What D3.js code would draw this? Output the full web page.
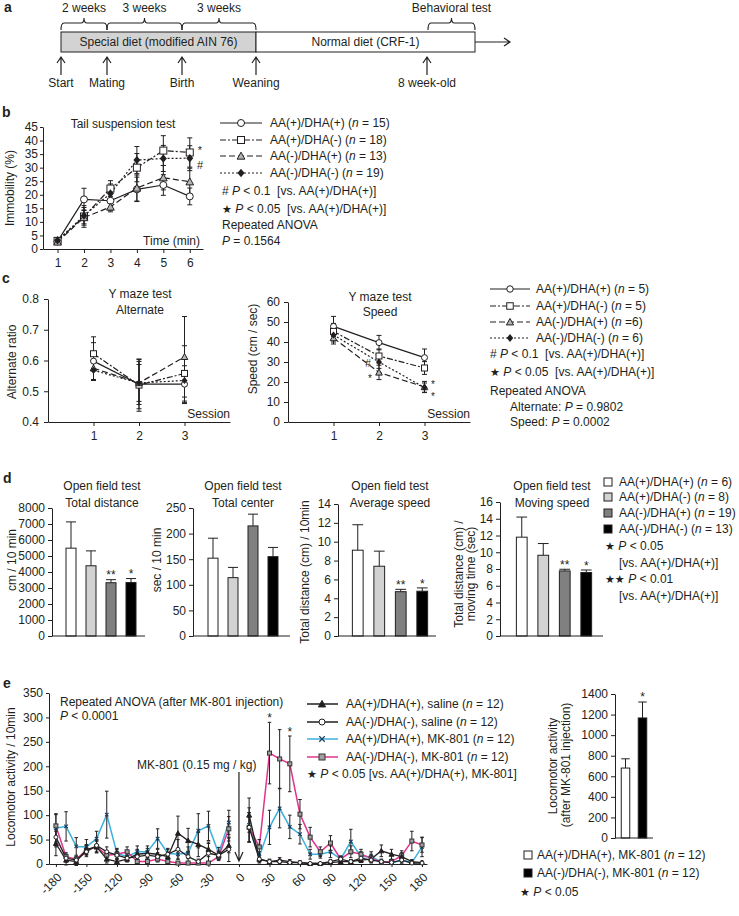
<!DOCTYPE html>
<html><head><meta charset="utf-8">
<script src="https://cdn.jsdelivr.net/npm/d3@7/dist/d3.min.js"></script>
<style>body{margin:0;background:#fff}text{white-space:pre}</style>
</head><body>
<svg id="fig" width="739" height="916" xmlns="http://www.w3.org/2000/svg"></svg>
<script>
// ================= DATA =================
const groups = ["AA(+)/DHA(+)", "AA(+)/DHA(-)", "AA(-)/DHA(+)", "AA(-)/DHA(-)"];

// (a) timeline
const tlEvents = ["Start", "Mating", "Birth", "Weaning", "8 week-old"];
const tlPeriods = ["2 weeks", "3 weeks", "3 weeks", "Behavioral test"];
const tlBoxes = ["Special diet (modified AIN 76)", "Normal diet (CRF-1)"];

// (b) tail suspension
const tsTimes = [1, 2, 3, 4, 5, 6];
const tsN = [15, 18, 13, 19];
const tsYTicks = [0, 5, 10, 15, 20, 25, 30, 35, 40, 45];
const tsPP = [2.8, 18.3, 17.8, 22.0, 23.6, 19.4];
const tsPPsem = [0.8, 4.1, 3.5, 4.5, 3.8, 3.1];
const tsPM = [3.0, 12.0, 22.3, 30.0, 36.3, 35.6];
const tsPMsem = [0.9, 4.0, 2.9, 5.2, 5.5, 5.4];
const tsMP = [2.6, 11.6, 15.5, 22.5, 26.3, 24.8];
const tsMPsem = [0.7, 2.8, 1.8, 4.8, 4.5, 5.0];
const tsMM = [3.2, 12.3, 20.5, 32.8, 33.4, 33.5];
const tsMMsem = [0.9, 3.0, 3.5, 5.0, 4.8, 4.6];

// (c) Y maze
const ymSessions = [1, 2, 3];
const ymN = ["5", "5", "6", "6"];
const altTicks = [0.4, 0.5, 0.6, 0.7, 0.8];
const altPP = [0.598, 0.523, 0.523], altPPsem = [0.06, 0.08, 0.06];
const altPM = [0.622, 0.520, 0.558], altPMsem = [0.055, 0.085, 0.09];
const altMP = [0.575, 0.527, 0.612], altMPsem = [0.04, 0.07, 0.131];
const altMM = [0.568, 0.527, 0.535], altMMsem = [0.03, 0.06, 0.075];
const spdTicks = [0, 10, 20, 30, 40, 50, 60];
const spdPP = [47.8, 39.7, 32.2], spdPPsem = [5.0, 3.6, 4.3];
const spdPM = [45.3, 33.0, 27.0], spdPMsem = [4.0, 3.5, 3.2];
const spdMP = [42.0, 24.8, 17.5], spdMPsem = [3.0, 3.6, 2.8];
const spdMM = [43.5, 30.0, 17.2], spdMMsem = [3.5, 3.2, 2.3];

// (d) open field
const odN = [6, 8, 19, 13];
const odFills = ["#ffffff", "#d2d2d2", "#808080", "#000000"];
const odTotalDist = [5490, 4390, 3330, 3340], odTotalDistSem = [1640, 930, 190, 250];
const odCenter = [152, 114, 215, 155], odCenterSem = [39, 20, 23, 18];
const odAvgSpeed = [9.1, 7.4, 4.7, 4.75], odAvgSpeedSem = [2.7, 1.6, 0.25, 0.35];
const odMoveSpeed = [11.8, 9.64, 7.77, 7.58], odMoveSpeedSem = [2.4, 1.4, 0.2, 0.3];
const odStarsDist = ["", "", "**", "*"];
const odStarsCenter = ["", "", "", ""];
const odStarsAvg = ["", "", "**", "*"];
const odStarsMove = ["", "", "**", "*"];
const odTicksDist = [0, 1000, 2000, 3000, 4000, 5000, 6000, 7000, 8000];
const odTicksCenter = [0, 50, 100, 150, 200, 250];
const odTicksAvg = [0, 2, 4, 6, 8, 10, 12, 14];
const odTicksMove = [0, 2, 4, 6, 8, 10, 12, 14, 16];

// (e) MK-801 locomotor activity
const locoTimes = [-180,-170,-160,-150,-140,-130,-120,-110,-100,-90,-80,-70,-60,-50,-40,-30,-20,-10,
                   10,20,30,40,50,60,70,80,90,100,110,120,130,140,150,160,170,180];
const locoXTicks = [-180,-150,-120,-90,-60,-30,0,30,60,90,120,150,180];
const locoYTicks = [0,50,100,150,200,250,300,350];
const locoLabels = ["AA(+)/DHA(+), saline", "AA(-)/DHA(-), saline", "AA(+)/DHA(+), MK-801", "AA(-)/DHA(-), MK-801"];
const locoSalPP = [42,8,5,30,35,10,5,10,20,22,20,15,63,48,40,30,18,38, 100,10,5,8,5,3,1,1,3,5,5,8,10,27,20,15,5,3];
const locoSalPPsem = [25,10,8,10,12,8,5,6,10,10,10,8,35,25,25,15,8,15, 35,8,5,5,4,3,2,2,3,4,4,5,6,12,10,8,4,3];
const locoSalMM = [55,12,8,25,38,25,18,12,15,18,15,20,30,15,5,22,18,30, 75,10,5,5,3,3,1,1,5,10,5,12,8,5,3,8,2,2];
const locoSalMMsem = [20,8,6,10,12,10,8,6,8,8,8,10,20,10,5,20,8,25, 30,6,4,4,3,3,2,2,4,6,4,8,6,4,3,6,2,2];
const locoMkPP = [73,77,36,35,52,101,22,15,25,25,52,22,20,23,68,78,22,85, 80,15,75,114,76,61,20,20,25,10,46,15,15,5,2,8,3,35];
const locoMkPPsem = [28,30,18,15,15,48,10,8,12,12,20,10,10,12,35,30,12,25, 35,10,35,40,24,20,10,8,12,6,25,10,10,5,3,6,3,20];
const locoMkMM = [78,15,10,28,35,18,20,25,5,5,10,5,2,2,2,2,15,72, 75,35,227,215,205,102,55,25,43,10,25,20,12,3,5,17,47,39];
const locoMkMMsem = [25,8,6,10,12,8,10,10,4,4,6,4,2,2,2,2,8,25, 30,15,63,60,57,30,20,10,15,6,12,10,8,3,4,10,20,15];
const locoStarTimes = [30, 50];
const mkTotal = [680, 1167], mkTotalSem = [90, 155];
const mkTotalLabels = ["AA(+)/DHA(+), MK-801", "AA(-)/DHA(-), MK-801"];
const mkTotalTicks = [0,200,400,600,800,1000,1200,1400];

// ================= DRAWING =================
const INK = "#231f20";
const FONT = '"Liberation Sans", Arial, Helvetica, sans-serif';
const FS = 12;
const svg = d3.select("#fig").attr("font-family", FONT);

function T(x, y, s, o = {}) {
  const t = svg.append("text").attr("x", x).attr("y", y)
    .attr("font-size", o.fs || FS).attr("fill", INK)
    .attr("text-anchor", o.anchor || "start");
  if (!o.baseline) t.attr("dominant-baseline", "central");
  if (o.bold) t.attr("font-weight", "bold");
  if (o.rot) t.attr("transform", `rotate(${o.rot},${x},${y})`);
  const parts = Array.isArray(s) ? s : [[s, 0]];
  parts.forEach(p => {
    const ts = t.append("tspan").text(p[0]);
    if (p[1] === 1) ts.attr("font-style", "italic");
    if (p[1] === 2) ts.attr("font-family", '"DejaVu Sans", sans-serif').attr("font-size", 11);
  });
  return t;
}
const nLab = (g, n, sp = " = ") => [[g + " (", 0], ["n", 1], [sp + n + ")", 0]];
function star(x, cy, s, fs = 13) {
  svg.append("text").attr("x", x).attr("y", cy + fs * 0.55).attr("font-size", fs)
    .attr("text-anchor", "middle").attr("fill", INK).text(s);
}
function styleAxis(g) {
  g.attr("font-family", FONT).attr("font-size", FS);
  g.select(".domain").attr("stroke", INK);
  g.selectAll(".tick line").attr("stroke", INK);
  g.selectAll(".tick text").attr("fill", INK);
}
function yAxis(x, scale, ticks, size = 4, pad = 3, fmt = d => d) {
  const g = svg.append("g").attr("transform", `translate(${x},0)`)
    .call(d3.axisLeft(scale).tickValues(ticks).tickSize(size).tickSizeOuter(0).tickPadding(pad).tickFormat(fmt));
  styleAxis(g); return g;
}
function xAxis(y, scale, ticks, size = 4, pad = 5, fmt = d => d) {
  const g = svg.append("g").attr("transform", `translate(0,${y})`)
    .call(d3.axisBottom(scale).tickValues(ticks).tickSize(size).tickSizeOuter(0).tickPadding(pad).tickFormat(fmt));
  styleAxis(g); return g;
}
function marker(g, type, x, y, s, color) {
  if (type === "circle") g.append("circle").attr("cx", x).attr("cy", y).attr("r", s / 2).attr("fill", "#fff").attr("stroke", INK).attr("stroke-width", 1);
  else if (type === "square") g.append("rect").attr("x", x - s / 2).attr("y", y - s / 2).attr("width", s).attr("height", s).attr("fill", "#fff").attr("stroke", INK);
  else if (type === "sqgray") g.append("rect").attr("x", x - s / 2).attr("y", y - s / 2).attr("width", s).attr("height", s).attr("fill", "#a0a0a0").attr("stroke", "#333");
  else if (type === "triangle" || type === "trifill") g.append("path")
    .attr("d", `M${x},${y - s * 0.55}L${x + s * 0.55},${y + s * 0.45}L${x - s * 0.55},${y + s * 0.45}Z`)
    .attr("fill", type === "trifill" ? INK : "#b5b5b5").attr("stroke", INK);
  else if (type === "diamond") g.append("path")
    .attr("d", `M${x},${y - s * 0.6}L${x + s * 0.5},${y}L${x},${y + s * 0.6}L${x - s * 0.5},${y}Z`).attr("fill", INK);
  else if (type === "x") g.append("path")
    .attr("d", `M${x - s / 2},${y - s / 2}L${x + s / 2},${y + s / 2}M${x - s / 2},${y + s / 2}L${x + s / 2},${y - s / 2}`)
    .attr("stroke", "#1b3f5c").attr("stroke-width", 1.2);
}
function drawSeries(g, xs, m, xS, yS, st) {
  const pts = xs.map((t, i) => [xS(t), yS(m[i])]);
  g.append("path").attr("d", d3.line()(pts)).attr("fill", "none")
    .attr("stroke", st.color || INK).attr("stroke-width", st.w || 1.2)
    .attr("stroke-dasharray", st.dash || null);
}
function drawErr(g, xs, m, e, xS, yS, cap) {
  xs.forEach((t, i) => {
    const x = xS(t), y1 = yS(m[i] - e[i]), y2 = yS(m[i] + e[i]);
    g.append("line").attr("x1", x).attr("x2", x).attr("y1", y1).attr("y2", y2).attr("stroke", INK).attr("stroke-width", 1);
    [y1, y2].forEach(yy => g.append("line").attr("x1", x - cap / 2).attr("x2", x + cap / 2).attr("y1", yy).attr("y2", yy).attr("stroke", INK).attr("stroke-width", 1));
  });
}
function drawMarkers(g, xs, m, xS, yS, type, s, color) {
  xs.forEach((t, i) => marker(g, type, xS(t), yS(m[i]), s, color));
}

// ---------- panel a ----------
const tlX = [61, 107, 182, 256, 427];
const tlEnd = 475;
T(4, 12, "a", { bold: true, fs: 14, baseline: 1 });
svg.append("rect").attr("x", tlX[0]).attr("y", 32).attr("width", tlX[3] - tlX[0]).attr("height", 20).attr("fill", "#d3d3d3").attr("stroke", INK);
svg.append("rect").attr("x", tlX[3]).attr("y", 32).attr("width", tlEnd - tlX[3]).attr("height", 20).attr("fill", "#fff").attr("stroke", INK);
T((tlX[0] + tlX[3]) / 2, 42, tlBoxes[0], { anchor: "middle" });
T((tlX[3] + tlEnd) / 2, 42, tlBoxes[1], { anchor: "middle" });
svg.append("path").attr("d", `M${tlEnd},42H510M504,38L510,42L504,46`).attr("fill", "none").attr("stroke", INK).attr("stroke-width", 1.2);
const braceSpans = [[tlX[0], tlX[1]], [tlX[1], tlX[2]], [tlX[2], tlX[3]], [428, tlEnd]];
braceSpans.forEach((sp, i) => {
  const [a, b] = sp, m = (a + b) / 2;
  svg.append("path").attr("d", `M${a},30Q${a},23 ${a + 3},23L${m - 3},23Q${m},23 ${m},18Q${m},23 ${m + 3},23L${b - 3},23Q${b},23 ${b},30`)
    .attr("fill", "none").attr("stroke", INK).attr("stroke-width", 1.1);
  T(m, 8, tlPeriods[i], { anchor: "middle" });
});
tlEvents.forEach((ev, i) => {
  const x = tlX[i];
  svg.append("path").attr("d", `M${x},75V57M${x - 4},63L${x},57L${x + 4},63`).attr("fill", "none").attr("stroke", INK).attr("stroke-width", 1.2);
  T(x, 83, ev, { anchor: "middle" });
});

// ---------- panel b ----------
T(2, 117, "b", { bold: true, fs: 14, baseline: 1 });
const xB = d3.scaleLinear().domain([0.45, 6.5]).range([43, 203]);
const yB = d3.scaleLinear().domain([0, 45]).range([249, 127]);
yAxis(43, yB, tsYTicks, 3, 2);
xAxis(249, xB, tsTimes, 4, 5);
T(123, 124, "Tail suspension test", { anchor: "middle" });
T(200, 241, "Time (min)", { anchor: "end" });
T(10, 188, "Immobility (%)", { anchor: "middle", rot: -90 });
const lineStyles = [
  { dash: null, marker: "circle", s: 7 },
  { dash: "6,2,2,2", marker: "square", s: 7 },
  { dash: "6,3", marker: "triangle", s: 7 },
  { dash: "2,2", marker: "diamond", s: 7 }
];
const gB = svg.append("g");
const tsSets = [[tsPP, tsPPsem], [tsPM, tsPMsem], [tsMP, tsMPsem], [tsMM, tsMMsem]];
tsSets.forEach((d, i) => drawSeries(gB, tsTimes, d[0], xB, yB, lineStyles[i]));
tsSets.forEach((d, i) => drawErr(gB, tsTimes, d[0], d[1], xB, yB, 5));
tsSets.forEach((d, i) => drawMarkers(gB, tsTimes, d[0], xB, yB, lineStyles[i].marker, lineStyles[i].s));
star(200, 148, "*", 11);
T(200, 165, "#", { anchor: "middle", fs: 11 });
// legend b
const legB = [123, 140, 156, 173];
groups.forEach((g, i) => {
  svg.append("line").attr("x1", 220).attr("x2", 262).attr("y1", legB[i]).attr("y2", legB[i]).attr("stroke", INK).attr("stroke-width", 1.2).attr("stroke-dasharray", lineStyles[i].dash);
  marker(svg, lineStyles[i].marker, 241, legB[i], lineStyles[i].s);
  T(270, legB[i], nLab(g, tsN[i]));
});
T(222, 191, [["# ", 0], ["P", 1], [" < 0.1  [vs. AA(+)/DHA(+)]", 0]]);
T(222, 209, [["★ ", 2], ["P", 1], [" < 0.05  [vs. AA(+)/DHA(+)]", 0]]);
T(222, 225, "Repeated ANOVA");
T(222, 241, [["P", 1], [" = 0.1564", 0]]);

// ---------- panel c ----------
T(2, 283, "c", { bold: true, fs: 14, baseline: 1 });
const xC1 = d3.scaleLinear().domain([0, 4]).range([48, 230]);
const yC1 = d3.scaleLinear().domain([0.4, 0.8]).range([422, 299]);
yAxis(48, yC1, altTicks, 4, 5, d3.format(".1f"));
xAxis(422, xC1, ymSessions, 4, 5);
T(140, 294, "Y maze test", { anchor: "middle" });
T(140, 310, "Alternate", { anchor: "middle" });
T(230, 414, "Session", { anchor: "end" });
T(12, 362, "Alternate ratio", { anchor: "middle", rot: -90 });
const gC1 = svg.append("g");
const altSets = [[altPP, altPPsem], [altPM, altPMsem], [altMP, altMPsem], [altMM, altMMsem]];
altSets.forEach((d, i) => drawSeries(gC1, ymSessions, d[0], xC1, yC1, lineStyles[i]));
altSets.forEach((d, i) => drawErr(gC1, ymSessions, d[0], d[1], xC1, yC1, 5));
altSets.forEach((d, i) => drawMarkers(gC1, ymSessions, d[0], xC1, yC1, lineStyles[i].marker, 6));

const xC2 = d3.scaleLinear().domain([0, 4]).range([288, 470]);
const yC2 = d3.scaleLinear().domain([0, 60]).range([422, 302]);
yAxis(288, yC2, spdTicks, 4, 4);
xAxis(422, xC2, ymSessions, 4, 5);
T(380, 297, "Y maze test", { anchor: "middle" });
T(380, 312, "Speed", { anchor: "middle" });
T(470, 414, "Session", { anchor: "end" });
T(253, 349, "Speed (cm / sec)", { anchor: "middle", rot: -90 });
const gC2 = svg.append("g");
const spdSets = [[spdPP, spdPPsem], [spdPM, spdPMsem], [spdMP, spdMPsem], [spdMM, spdMMsem]];
spdSets.forEach((d, i) => drawSeries(gC2, ymSessions, d[0], xC2, yC2, lineStyles[i]));
spdSets.forEach((d, i) => drawErr(gC2, ymSessions, d[0], d[1], xC2, yC2, 5));
spdSets.forEach((d, i) => drawMarkers(gC2, ymSessions, d[0], xC2, yC2, lineStyles[i].marker, 6));
T(368, 363, "#", { anchor: "middle", fs: 10 });
star(370, 376, "*", 10);
star(433, 382, "*", 10);
star(433, 394, "*", 10);
// legend c
const legC = [289, 306, 322, 338];
groups.forEach((g, i) => {
  svg.append("line").attr("x1", 490).attr("x2", 530).attr("y1", legC[i]).attr("y2", legC[i]).attr("stroke", INK).attr("stroke-width", 1.2).attr("stroke-dasharray", lineStyles[i].dash);
  marker(svg, lineStyles[i].marker, 510, legC[i], 6.5);
  T(536, legC[i], nLab(g, ymN[i], i === 2 ? " =" : " = "));
});
T(490, 354, [["# ", 0], ["P", 1], [" < 0.1  [vs. AA(+)/DHA(+)]", 0]]);
T(490, 372, [["★ ", 2], ["P", 1], [" < 0.05  [vs. AA(+)/DHA(+)]", 0]]);
T(490, 391, "Repeated ANOVA");
T(510, 407, [["Alternate: ", 0], ["P", 1], [" = 0.9802", 0]]);
T(510, 422, [["Speed: ", 0], ["P", 1], [" = 0.0002", 0]]);

// ---------- panel d ----------
T(3, 483, "d", { bold: true, fs: 14, baseline: 1 });
const odCharts = [
  { v: odTotalDist, e: odTotalDistSem, st: odStarsDist, ticks: odTicksDist, ax: 52, top: 508, end: 145, band: [61, 141], title: ["Open field test", "Total distance"], tx: 102, ylab: ["cm / 10 min"], ylx: [12], yly: 560 },
  { v: odCenter, e: odCenterSem, st: odStarsCenter, ticks: odTicksCenter, ax: 193, top: 508, end: 290, band: [203, 283], title: ["Open field test", "Total center"], tx: 243, ylab: ["sec / 10 min"], ylx: [157], yly: 560 },
  { v: odAvgSpeed, e: odAvgSpeedSem, st: odStarsAvg, ticks: odTicksAvg, ax: 338, top: 504, end: 436, band: [347, 433], title: ["Open field test", "Average speed"], tx: 390, ylab: ["Total distance (cm) / 10min"], ylx: [305], yly: 572 },
  { v: odMoveSpeed, e: odMoveSpeedSem, st: odStarsMove, ticks: odTicksMove, ax: 500, top: 502, end: 603, band: [511, 597], title: ["Open field test", "Moving speed"], tx: 552, ylab: ["Total distance (cm) /", "moving time (sec)"], ylx: [459, 471], yly: 574 }
];
const dBase = 636;
odCharts.forEach(c => {
  const ticks = c.ticks;
  const y = d3.scaleLinear().domain([0, ticks[ticks.length - 1]]).range([dBase, c.top]);
  const x = d3.scaleBand().domain(d3.range(c.v.length)).range(c.band).paddingInner(0.5).paddingOuter(0.25);
  const g = svg.append("g");
  c.v.forEach((v, i) => {
    const cx = x(i) + x.bandwidth() / 2, yt = y(v + c.e[i]);
    g.append("line").attr("x1", cx).attr("x2", cx).attr("y1", y(v)).attr("y2", yt).attr("stroke", INK);
    g.append("line").attr("x1", x(i)).attr("x2", x(i) + x.bandwidth()).attr("y1", yt).attr("y2", yt).attr("stroke", INK);
    g.append("rect").attr("x", x(i)).attr("y", y(v)).attr("width", x.bandwidth()).attr("height", dBase - y(v))
      .attr("fill", odFills[i]).attr("stroke", INK).attr("stroke-width", 1);
    if (c.st[i]) star(cx, yt - 7, c.st[i], 12);
  });
  yAxis(c.ax, y, ticks, 4, 3);
  svg.append("line").attr("x1", c.ax).attr("x2", c.end).attr("y1", dBase).attr("y2", dBase).attr("stroke", INK);
  T(c.tx, 486, c.title[0], { anchor: "middle" });
  T(c.tx, 503, c.title[1], { anchor: "middle" });
  c.ylab.forEach((l, k) => T(c.ylx[k], c.yly, l, { anchor: "middle", rot: -90 }));
});
// legend d
const legD = [482, 497, 513, 529];
groups.forEach((g, i) => {
  svg.append("rect").attr("x", 604).attr("y", legD[i] - 4).attr("width", 8).attr("height", 8).attr("fill", odFills[i]).attr("stroke", INK);
  T(619, legD[i], nLab(g, odN[i]));
});
T(605, 546, [["★ ", 2], ["P", 1], [" < 0.05", 0]]);
T(619, 563, "[vs. AA(+)/DHA(+)]");
T(605, 579, [["★★ ", 2], ["P", 1], [" < 0.01", 0]]);
T(619, 596, "[vs. AA(+)/DHA(+)]");

// ---------- panel e ----------
T(3, 688, "e", { bold: true, fs: 14, baseline: 1 });
const xE = d3.scaleLinear().domain([-186.8, 184.9]).range([49, 427]);
const yE = d3.scaleLinear().domain([0, 350]).range([864, 693]);
yAxis(49, yE, locoYTicks, 3, 3);
const gxE = xAxis(864, xE, locoXTicks, 3, 3);
gxE.selectAll(".tick text").attr("text-anchor", "end").attr("x", 0).attr("y", 0).attr("dy", 0)
  .attr("transform", "translate(6,14) rotate(-45)");
T(11, 777, "Locomotor activity / 10min", { anchor: "middle", rot: -90 });
T(60, 702, "Repeated ANOVA (after MK-801 injection)");
T(60, 716, [["P", 1], [" < 0.0001", 0]]);
T(137, 765, "MK-801 (0.15 mg / kg)");
svg.append("path").attr("d", `M${xE(0)},772V861M${xE(0) - 4},852L${xE(0)},861L${xE(0) + 4},852`).attr("fill", "none").attr("stroke", INK).attr("stroke-width", 1.2);
const eStyles = [
  { color: INK, marker: "trifill", s: 4.5, w: 1.3 },
  { color: INK, marker: "circle", s: 4, w: 1.3 },
  { color: "#3eb1dc", marker: "x", s: 3.5, w: 1.5 },
  { color: "#e0358c", marker: "sqgray", s: 4, w: 1.5 }
];
const eSets = [[locoSalPP, locoSalPPsem], [locoSalMM, locoSalMMsem], [locoMkPP, locoMkPPsem], [locoMkMM, locoMkMMsem]];
const gE = svg.append("g");
const drawOrder = [2, 3, 0, 1];
const preT = locoTimes.filter(t => t < 0), postT = locoTimes.filter(t => t > 0);
drawOrder.forEach(i => {
  const m = eSets[i][0];
  drawSeries(gE, preT, m.slice(0, preT.length), xE, yE, eStyles[i]);
  drawSeries(gE, postT, m.slice(preT.length), xE, yE, eStyles[i]);
});
drawOrder.forEach(i => drawErr(gE, locoTimes, eSets[i][0], eSets[i][1], xE, yE, 3.5));
drawOrder.forEach(i => drawMarkers(gE, locoTimes, eSets[i][0], xE, yE, eStyles[i].marker, eStyles[i].s));
locoStarTimes.forEach(t => {
  const k = locoTimes.indexOf(t);
  star(xE(t), yE(locoMkMM[k] + locoMkMMsem[k]) - 7, "*", 12);
});
const legE = [704, 722, 739, 757];
locoLabels.forEach((l, i) => {
  svg.append("line").attr("x1", 307).attr("x2", 338).attr("y1", legE[i]).attr("y2", legE[i]).attr("stroke", eStyles[i].color).attr("stroke-width", 1.5);
  marker(svg, eStyles[i].marker, 322, legE[i], eStyles[i].s + 2);
  T(346, legE[i], nLab(l, 12));
});
T(307, 774, [["★ ", 2], ["P", 1], [" < 0.05 [vs. AA(+)/DHA(+), MK-801]", 0]]);

// right bar chart (e)
const yR = d3.scaleLinear().domain([0, 1400]).range([838, 694]);
const xR = d3.scaleBand().domain([0, 1]).range([617, 651]).paddingInner(0.5).paddingOuter(0.25);
const gR = svg.append("g");
const rFills = ["#ffffff", "#000000"];
mkTotal.forEach((v, i) => {
  const cx = xR(i) + xR.bandwidth() / 2, yt = yR(v + mkTotalSem[i]);
  gR.append("line").attr("x1", cx).attr("x2", cx).attr("y1", yR(v)).attr("y2", yt).attr("stroke", INK);
  gR.append("line").attr("x1", xR(i)).attr("x2", xR(i) + xR.bandwidth()).attr("y1", yt).attr("y2", yt).attr("stroke", INK);
  gR.append("rect").attr("x", xR(i)).attr("y", yR(v)).attr("width", xR.bandwidth()).attr("height", 838 - yR(v)).attr("fill", rFills[i]).attr("stroke", INK);
});
star(xR(1) + xR.bandwidth() / 2, yR(mkTotal[1] + mkTotalSem[1]) - 8, "*", 12);
yAxis(615, yR, mkTotalTicks, 4, 3);
svg.append("line").attr("x1", 615).attr("x2", 653).attr("y1", 838).attr("y2", 838).attr("stroke", INK);
T(553, 766, "Locomotor activity", { anchor: "middle", rot: -90 });
T(566, 765, "(after MK-801 injection)", { anchor: "middle", rot: -90 });
const legR = [855, 873];
mkTotalLabels.forEach((l, i) => {
  svg.append("rect").attr("x", 524).attr("y", legR[i] - 4).attr("width", 8).attr("height", 8).attr("fill", rFills[i]).attr("stroke", INK);
  T(537, legR[i], nLab(l, 12));
});
T(520, 892, [["★ ", 2], ["P", 1], [" < 0.05", 0]]);
</script>
</body></html>
